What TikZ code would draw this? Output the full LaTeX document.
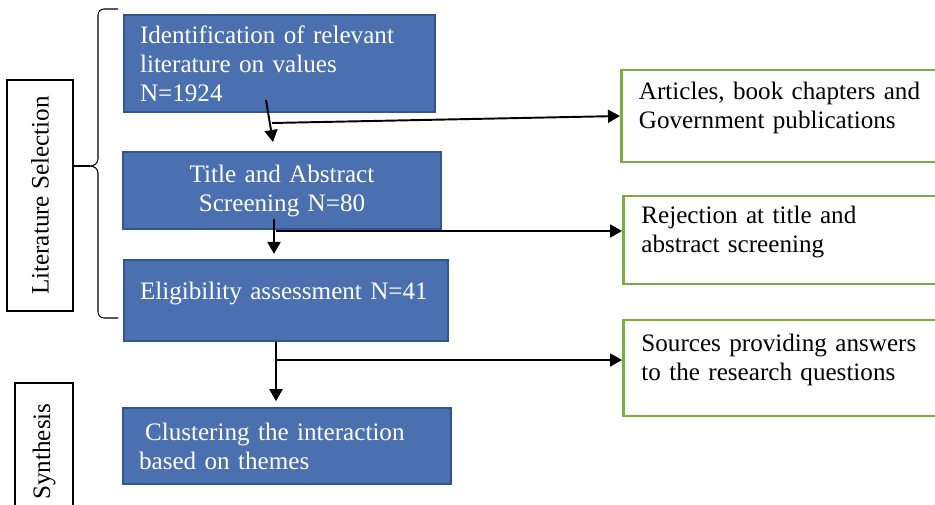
\documentclass[tikz,border=0pt]{standalone}
\usepackage{fontspec}
\setmainfont{Liberation Serif}
\usepackage{xcolor}
\definecolor{stageblue}{HTML}{4A70B0}
\definecolor{stageedge}{HTML}{2F5597}
\definecolor{outgreen}{HTML}{7AAF3F}
\usepackage{tikz}
\usetikzlibrary{arrows.meta, positioning, calc}

\begin{document}
\begin{tikzpicture}[x=0.02cm, y=-0.02cm,
  font=\fontsize{14.3}{16.5}\selectfont,
  stage/.style={draw=stageedge, line width=0.9pt, fill=stageblue, text=white, inner xsep=0.32cm, inner ysep=0pt},
  outcome/.style={draw=outgreen, line width=1.6pt, anchor=west, align=left, inner xsep=0.33cm, inner ysep=0pt, text width=5.8cm, text depth=1.0cm},
  phase/.style={draw, line width=0.8pt, rotate=90, inner sep=0pt},
  flow/.style={line width=1.1pt, -{Triangle[length=0.24cm, width=0.26cm]}}]
  \useasboundingbox (0,0) rectangle (935,504);
  \clip (0,0) rectangle (935,504);

  % phases on the left
  \node[phase, minimum width=4.62cm, minimum height=1.32cm] (litsel) at (40,195.5) {Literature Selection};
  \node[phase, minimum width=2.74cm, minimum height=1.16cm] (synth) at (44,451.5) {Synthesis};

  % brace: hooks at (118,9) and (118,318), tip at (90,166)
  \coordinate (tip) at (90,166);
  \draw[line width=0.6pt] (118,9) -- (104,9) to[out=180,in=90] (98,15) -- (98,159)
    to[out=-90,in=0] (tip) to[out=0,in=90] (98,173) -- (98,312)
    to[out=-90,in=180] (104,318) -- (118,318);
  \draw[line width=0.8pt] (litsel.south |- tip) -- (tip);

  % main stages
  \node[stage, minimum width=6.22cm, minimum height=1.94cm, text width=5.58cm, align=left] (ident) at (279.5,63.5)
    {Identification of relevant\\literature on values\\N=1924};
  \node[stage, minimum width=6.36cm, minimum height=1.54cm, text width=5.72cm, align=center] (title) at (282,190.5)
    {Title and Abstract\\Screening N=80};
  \node[stage, minimum width=6.48cm, minimum height=1.62cm, text width=5.84cm, align=left, text depth=0.4cm] (elig) at (286,300.5)
    {Eligibility assessment N=41};
  \node[stage, minimum width=6.56cm, minimum height=1.52cm, text width=5.92cm, align=left] (cluster) at (287,446)
    {\hspace{0.12cm}Clustering the interaction\\based on themes};

  % outcomes on the right (cut by the page edge)
  \node[outcome, minimum width=6.5cm, minimum height=1.84cm] (articles) at (620,116)
    {Articles, book chapters and\\Government publications};
  \node[outcome, minimum width=6.46cm, minimum height=1.76cm, inner xsep=0.36cm] (reject) at (622,240)
    {Rejection at title and\\abstract screening};
  \node[outcome, minimum width=6.46cm, minimum height=1.92cm, inner xsep=0.36cm] (sources) at (622,368)
    {Sources providing answers\\to the research questions};

  % flow between stages
  \coordinate (s1) at (266,100);
  \coordinate (e1) at (273,142);
  \coordinate (h1) at (272,123);
  \draw[flow] (s1) -- (e1);
  \draw[flow] (h1) -- (articles.west);

  \coordinate (s2) at (274,219);
  \coordinate (h2) at (276,231);
  \draw[flow, shorten >=3pt] (s2) -- (s2 |- elig.north);
  \draw[flow] (h2) -- (h2 -| reject.west);

  \coordinate (h3) at (276,360);
  \draw[flow, shorten >=0.12cm] (h3 |- elig.south) -- (h3 |- cluster.north);
  \draw[flow] (h3) -- (h3 -| sources.west);
\end{tikzpicture}
\end{document}
